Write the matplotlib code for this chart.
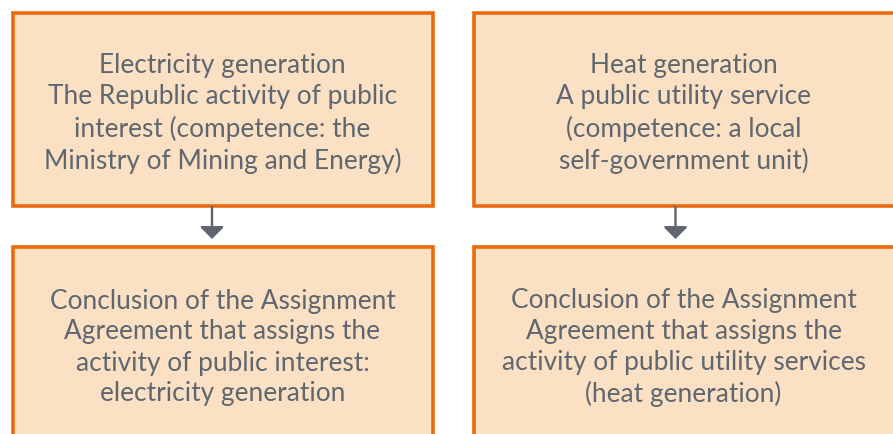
import matplotlib
matplotlib.use("Agg")
import matplotlib.pyplot as plt
from matplotlib.patches import Rectangle, FancyArrowPatch

top_texts = [
    "Electricity generation\nThe Republic activity of public\ninterest (competence: the\nMinistry of Mining and Energy)",
    "Heat generation\nA public utility service\n(competence: a local\nself-government unit)",
]
bottom_texts = [
    "Conclusion of the Assignment\nAgreement that assigns the\nactivity of public interest:\nelectricity generation",
    "Conclusion of the Assignment\nAgreement that assigns the\nactivity of public utility services\n(heat generation)",
]

W, H = 893, 434
fig = plt.figure(figsize=(W / 100, H / 100), dpi=100)
ax = fig.add_axes([0, 0, 1, 1])
ax.set_xlim(0, W)
ax.set_ylim(H, 0)
ax.axis("off")

fill = "#FCE0C4"
edge = "#EC6A0E"
txt = "#5E676F"
arrow_c = "#5F6670"

col_x = [(12.5, 432.5), (474, 895)]
top_y = (12.5, 205.5)
bot_y = (247, 440)

for i in range(2):
    x0, x1 = col_x[i]
    for (y0, y1), t, ty in ((top_y, top_texts[i], 113.5), (bot_y, bottom_texts[i], 347.5)):
        ax.add_patch(Rectangle((x0, y0), x1 - x0, y1 - y0, facecolor=fill,
                               edgecolor=edge, linewidth=2.6, zorder=2))
        ax.text((x0 + x1) / 2 if i == 0 else 683.5, ty, t, ha="center", va="center",
                fontsize=18.9, color=txt, family="Lato", linespacing=1.30, zorder=3)
    ax_x = 212 if i == 0 else 675.5
    ax.add_patch(FancyArrowPatch((ax_x, 207), (ax_x, 239),
                                 arrowstyle="-|>,head_length=0.52,head_width=0.52",
                                 mutation_scale=14, color=arrow_c, linewidth=1.7,
                                 shrinkA=0, shrinkB=0, zorder=3))

fig.savefig("out.png", dpi=100)
